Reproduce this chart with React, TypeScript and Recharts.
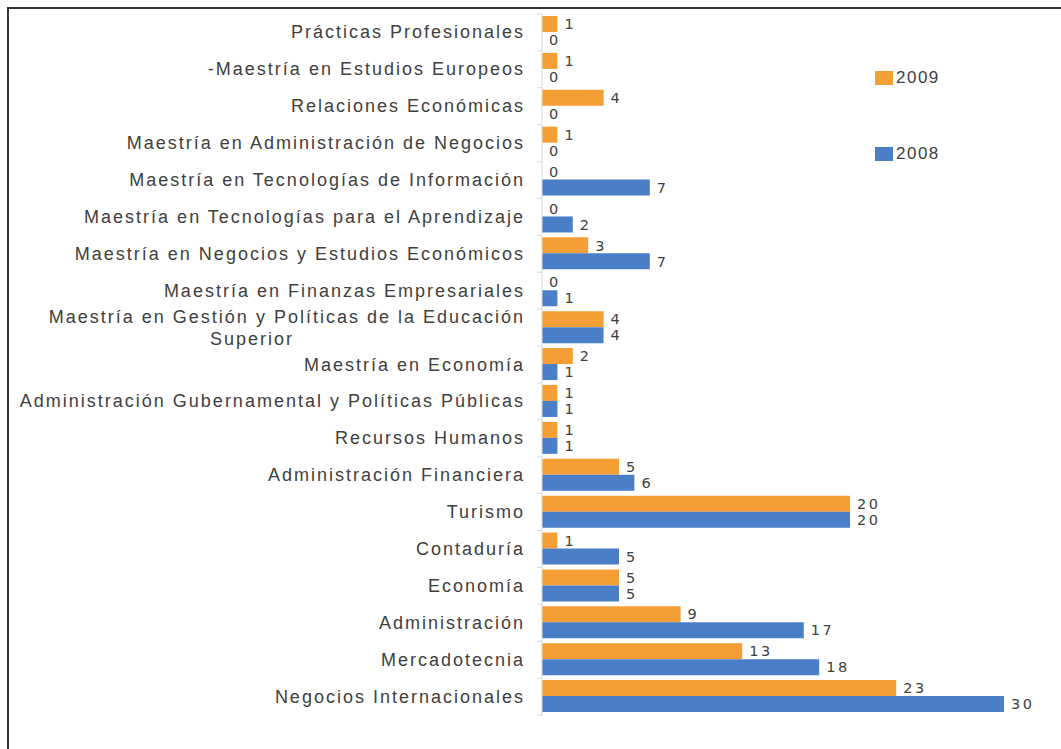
import React from 'react';
import { BarChart, Bar, XAxis, YAxis, LabelList, Legend } from 'recharts';

// programas, de arriba hacia abajo
const categories = [
  'Prácticas Profesionales',
  '-Maestría en Estudios Europeos',
  'Relaciones Económicas',
  'Maestría en Administración de Negocios',
  'Maestría en Tecnologías de Información',
  'Maestría en Tecnologías para el Aprendizaje',
  'Maestría en Negocios y Estudios Económicos',
  'Maestría en Finanzas Empresariales',
  'Maestría en Gestión y Políticas de la Educación Superior',
  'Maestría en Economía',
  'Administración Gubernamental y Políticas Públicas',
  'Recursos Humanos',
  'Administración Financiera',
  'Turismo',
  'Contaduría',
  'Economía',
  'Administración',
  'Mercadotecnia',
  'Negocios Internacionales',
];

const values2009 = [1, 1, 4, 1, 0, 0, 3, 0, 4, 2, 1, 1, 5, 20, 1, 5, 9, 13, 23];
const values2008 = [0, 0, 0, 0, 7, 2, 7, 1, 4, 1, 1, 1, 6, 20, 5, 5, 17, 18, 30];

const seriesNames = ['2009', '2008'];
const xDomain = [0, 30];

const ORANGE = '#F59E35';
const BLUE = '#4A7EC7';
const TEXT = '#404040';
const FONT = '"Liberation Sans", Arial, sans-serif';
const NUM_FONT = '"DejaVu Sans", sans-serif';

const rows = categories.map((name, i) => ({
  name,
  y2009: values2009[i],
  y2008: values2008[i],
}));

const CHART_W = 1061;
const CHART_H = 749;
const MARGIN = { top: 14, right: 57, bottom: 34, left: 0 };
const band = (CHART_H - MARGIN.top - MARGIN.bottom) / categories.length;

// parte el texto largo en dos renglones, como lo hace Excel
const wrapLabel = (text: string, max = 50): string[] => {
  if (text.length <= max) return [text];
  const words = text.split(' ');
  const lines: string[] = [];
  let cur = '';
  words.forEach((w) => {
    const next = cur ? `${cur} ${w}` : w;
    if (next.length > 47 && cur) {
      lines.push(cur);
      cur = w;
    } else {
      cur = next;
    }
  });
  if (cur) lines.push(cur);
  return lines;
};

const CategoryTick = (props: any) => {
  const { x, y, payload, index } = props;
  const lines = wrapLabel(String(payload.value));
  const textStyle = { letterSpacing: 2 };
  return (
    <g>
      <line x1={x - 5} x2={x} y1={y - band / 2} y2={y - band / 2} stroke="#d9d9d9" />
      {index === categories.length - 1 && (
        <line x1={x - 5} x2={x} y1={y + band / 2} y2={y + band / 2} stroke="#d9d9d9" />
      )}
      {lines.length === 1 ? (
        <text x={x - 17} y={y} dy={6} textAnchor="end" fill={TEXT} fontSize={18} fontFamily={FONT} style={textStyle}>
          {lines[0]}
        </text>
      ) : (
        <>
          <text x={x - 17} y={y - 11} dy={6} textAnchor="end" fill={TEXT} fontSize={18} fontFamily={FONT} style={textStyle}>
            {lines[0]}
          </text>
          <text x={x - 290} y={y + 11} dy={6} textAnchor="middle" fill={TEXT} fontSize={18} fontFamily={FONT} style={textStyle}>
            {lines[1]}
          </text>
        </>
      )}
    </g>
  );
};

const LegendContent = (props: any) => {
  const { payload } = props;
  // mismo orden que en el original: 2009 arriba
  const items = seriesNames
    .map((n) => (payload || []).find((p: any) => p.value === n))
    .filter(Boolean);
  return (
    <div style={{ fontFamily: FONT }}>
      {items.map((item: any, i: number) => (
        <div key={i} style={{ display: 'flex', alignItems: 'center', height: 18, marginBottom: i === 0 ? 58 : 0 }}>
          <span style={{ display: 'inline-block', width: 18, height: 14, backgroundColor: item.color, marginRight: 3 }}></span>
          <span style={{ fontSize: 17, color: TEXT, letterSpacing: 1.5 }}>{item.value}</span>
        </div>
      ))}
    </div>
  );
};

const App: React.FC = () => {
  return (
    <div style={{ position: 'absolute', left: 0, top: 0, width: CHART_W, height: CHART_H, background: '#fff', overflow: 'hidden' }}>
      <div
        style={{
          position: 'absolute',
          left: 7,
          top: 7,
          width: CHART_W,
          height: CHART_H,
          borderLeft: '2px solid #333',
          borderTop: '2px solid #333',
        }}
      ></div>
      <div style={{ position: 'absolute', left: 0, top: 0 }}>
        <BarChart
          width={CHART_W}
          height={CHART_H}
          data={rows}
          layout="vertical"
          margin={MARGIN}
          barCategoryGap={2}
          barGap={0}
        >
          <XAxis type="number" domain={xDomain} hide />
          <YAxis
            type="category"
            dataKey="name"
            width={542}
            axisLine={{ stroke: '#d9d9d9' }}
            tickLine={false}
            tickSize={0}
            tickMargin={0}
            interval={0}
            tick={<CategoryTick />}
          />
          <Legend
            layout="vertical"
            align="center"
            verticalAlign="middle"
            content={<LegendContent />}
            wrapperStyle={{ left: 875, top: 69, width: 120, height: 'auto' }}
          />
          <Bar dataKey="y2009" name={seriesNames[0]} fill={ORANGE} minPointSize={0.01} isAnimationActive={false}>
            <LabelList dataKey="y2009" position="right" offset={7} fill={TEXT} fontSize={14.5} fontFamily={NUM_FONT} style={{ letterSpacing: 2.5 }} />
          </Bar>
          <Bar dataKey="y2008" name={seriesNames[1]} fill={BLUE} minPointSize={0.01} isAnimationActive={false}>
            <LabelList dataKey="y2008" position="right" offset={7} fill={TEXT} fontSize={14.5} fontFamily={NUM_FONT} style={{ letterSpacing: 2.5 }} />
          </Bar>
        </BarChart>
      </div>
    </div>
  );
};

export default App;
